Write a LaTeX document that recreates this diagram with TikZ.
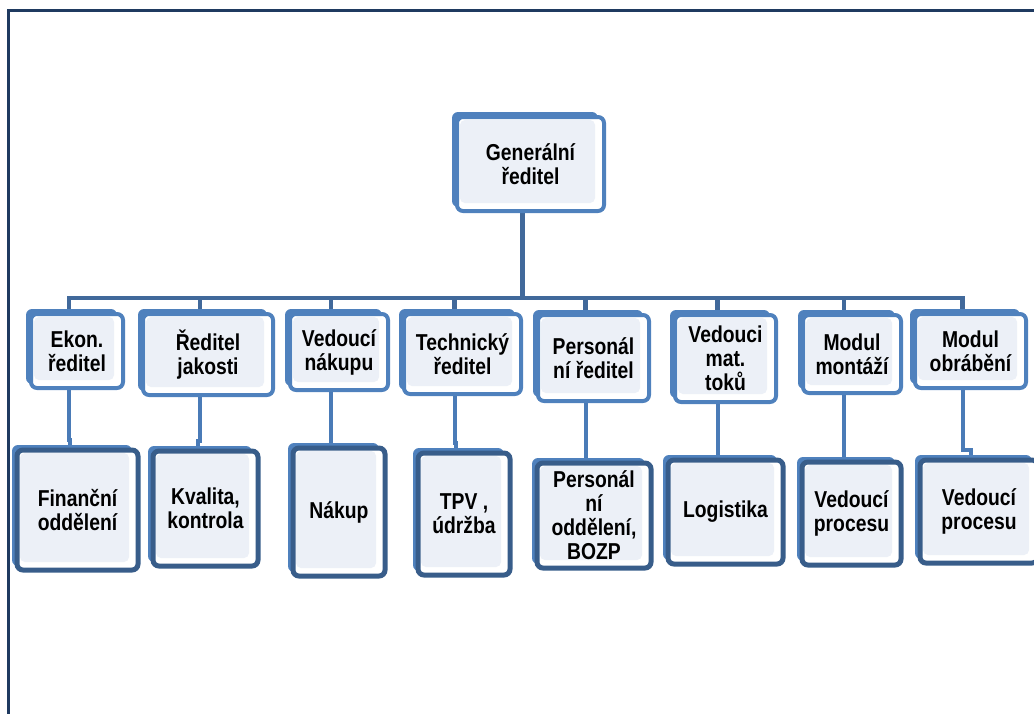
\documentclass[tikz,border=0pt]{standalone}
\usepackage{fontspec}
\setmainfont{Liberation Sans}[FakeStretch=0.84]
\usetikzlibrary{backgrounds}
\definecolor{bblue}{HTML}{4F81BD}
\definecolor{dblue}{HTML}{385D8A}
\definecolor{lfill}{HTML}{ECF0F7}
\definecolor{busc}{HTML}{41699B}
\definecolor{conc}{HTML}{4A7BB7}
\definecolor{framec}{HTML}{1F3A60}
\tikzset{
  boxbase/.style={rounded corners=6pt, fill=white, inner sep=0pt, outer sep=0pt,
    align=center, font=\fontsize{23}{24}\selectfont\bfseries,
    path picture={\fill[lfill, rounded corners=5pt]
      ([shift={(3,3)}]path picture bounding box.north west) rectangle
      ([shift={(-9,-8)}]path picture bounding box.south east);}},
  upbox/.style={boxbase, draw=bblue, line width=4pt},
  lowbox/.style={boxbase, draw=dblue, line width=5pt},
  shad/.style={fill=bblue, rounded corners=6pt},
  busline/.style={draw=busc, line width=4.5pt},
  conline/.style={draw=conc, line width=4pt},
  framel/.style={draw=framec, line width=3pt},
}
\newcommand\obox[7]{%
  \fill[shad] (#3-3,#4-3) rectangle (#5-8,#6-6);
  \node[#2, minimum width={(#5-#3-4)*1pt}, minimum height={(#6-#4-4)*1pt}]
    (#1) at ({(#3+#5)/2},{(#4+#6)/2}) {#7};
  \coordinate (t#1) at ([xshift=-8pt]#1.north);
  \coordinate (b#1) at ([xshift=-8pt]#1.south);
}
\begin{document}
\begin{tikzpicture}[x=1pt,y=-1pt]
\useasboundingbox (0,0) rectangle (1034,713);
\draw[framel] (1040,10) -- (8.5,10) -- (8.5,720);
% top
\obox{g}{upbox}{455}{115}{606}{213}{Generální\\ředitel}
% level 2
\obox{e1}{upbox}{29}{312}{125}{390}{Ekon.\\ředitel}
\obox{e2}{upbox}{141}{312}{275}{397}{Ředitel\\jakosti}
\obox{e3}{upbox}{288}{312}{390}{392}{Vedoucí\\nákupu}
\obox{e4}{upbox}{402}{312}{523}{396}{Technický\\ředitel}
\obox{e5}{upbox}{536}{313}{651}{403}{Personál\\ní ředitel}
\obox{e6}{upbox}{673}{313}{778}{404}{Vedouci\\mat.\\toků}
\obox{e7}{upbox}{801}{313}{903}{395}{Modul\\montáží}
\obox{e8}{upbox}{913}{312}{1028}{390}{Modul\\obrábění}
% level 3
\obox{f1}{lowbox}{15}{448}{140}{572}{Finanční\\oddělení}
\obox{f2}{lowbox}{151}{449}{260}{568}{Kvalita,\\kontrola}
\obox{f3}{lowbox}{291}{446}{387}{578}{Nákup}
\obox{f4}{lowbox}{416}{451}{512}{577}{TPV ,\\údržba}
\obox{f5}{lowbox}{535}{461}{653}{570}{Personál\\ní\\oddělení,\\BOZP}
\obox{f6}{lowbox}{666}{458}{785}{566}{Logistika}
\obox{f7}{lowbox}{800}{460}{903}{567}{Vedoucí\\procesu}
\obox{f8}{lowbox}{918}{458}{1040}{565}{Vedoucí\\procesu}
\begin{pgfonlayer}{background}
  \coordinate (bus) at (0,298);
  \foreach \c in {e1,e2,e3,e4,e5,e6,e7,e8}
    \draw[busline] (bg) |- (t\c |- bus) -- (t\c);
  \foreach \p/\c in {e1/f1,e2/f2,e3/f3,e4/f4,e5/f5,e6/f6,e7/f7,e8/f8}
    \draw[conline] (b\p) |- ([yshift=10pt]t\c) -- (t\c);
\end{pgfonlayer}
\end{tikzpicture}
\end{document}
